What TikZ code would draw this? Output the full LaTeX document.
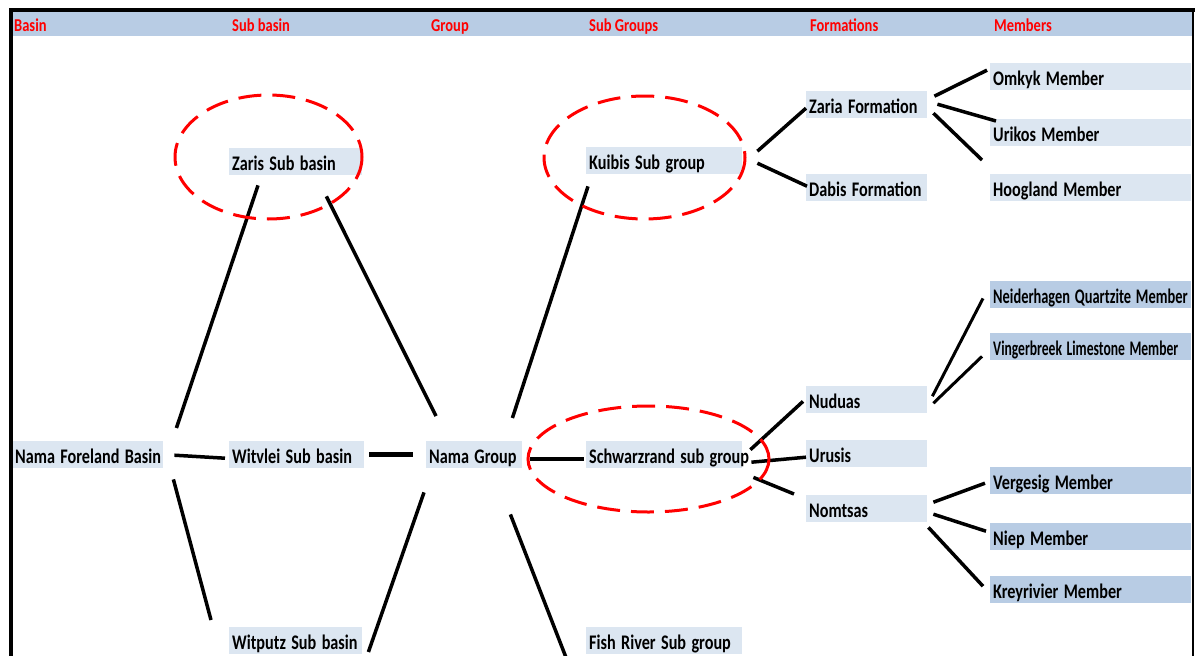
\documentclass[tikz,border=0pt]{standalone}
\usepackage{fontspec}
\setmainfont{Carlito}
\definecolor{hdr}{RGB}{184,204,228}
\definecolor{lbox}{RGB}{220,230,241}
\newcommand\vt[1]{\scalebox{1}[1.28]{#1}}
\newcommand\vtc[2]{\scalebox{#1}[1.28]{#2}}
\newcommand\vh[1]{\scalebox{1}[1.25]{#1}}
\tikzset{
  bx/.style={fill=lbox, anchor=north west, inner xsep=3pt, inner ysep=0pt,
    minimum height=27pt, text width=#1, align=left, text height=17pt, text depth=0pt,
    font=\fontsize{16.2}{18}\selectfont\bfseries},
  dk/.style={fill=hdr},
  hd/.style={anchor=west, inner sep=0pt, text=red, text height=11.4pt, text depth=0pt,
    font=\fontsize{14.5}{16}\selectfont\bfseries},
  cn/.style={line width=3.5pt},
  rell/.style={red, line width=3pt, dash pattern=on 23pt off 11pt},
  bord/.style={black, line width=4pt},
}
\begin{document}
\begin{tikzpicture}[x=1pt,y=-1pt]
\useasboundingbox (0,0) rectangle (1195,656);
% header bar
\fill[hdr] (12,12) rectangle (1192,36);
\node[hd] (h1) at (14,26.2) {\vh{Basin}};
\node[hd] (h2) at (232,26.2) {\vh{Sub basin}};
\node[hd] (h3) at (431,26.2) {\vh{Group}};
\node[hd] (h4) at (589,26.2) {\vh{Sub Groups}};
\node[hd] (h5) at (810,26.2) {\vh{Formations}};
\node[hd] (h6) at (994,26.2) {\vh{Members}};
% nodes
\node[bx=145] (nfb) at (12,441) {\vt{Nama Foreland Basin}};
\node[bx=129] (witvlei) at (229,441) {\vt{Witvlei Sub basin}};
\node[bx=90] (namag) at (426,441) {\vt{Nama Group}};
\node[bx=127] (zaris) at (229,148) {\vt{Zaris Sub basin}};
\node[bx=127] (witputz) at (229,627) {\vt{Witputz Sub basin}};
\node[bx=150] (kuibis) at (586,147) {\vt{Kuibis Sub group}};
\node[bx=150] (schwarz) at (586,441) {\vt{Schwarzrand sub group}};
\node[bx=150] (fish) at (586,627) {\vt{Fish River Sub group}};
\node[bx=115] (zaria) at (806,91) {\vt{Zaria Formation}};
\node[bx=115] (dabis) at (806,174) {\vt{Dabis Formation}};
\node[bx=195] (omkyk) at (990,63) {\vt{Omkyk Member}};
\node[bx=195] (urikos) at (990,119) {\vt{Urikos Member}};
\node[bx=195] (hoog) at (990,174) {\vt{Hoogland Member}};
\node[bx=195,dk] (neider) at (990,281) {\vtc{0.89}{Neiderhagen Quartzite Member}};
\node[bx=195,dk] (vinger) at (990,333) {\vtc{0.84}{Vingerbreek Limestone Member}};
\node[bx=115] (nuduas) at (806,386) {\vt{Nuduas}};
\node[bx=115] (urusis) at (806,440) {\vt{Urusis}};
\node[bx=115] (nomtsas) at (806,495) {\vt{Nomtsas}};
\node[bx=195,dk] (verg) at (990,467) {\vt{Vergesig Member}};
\node[bx=195,dk] (niep) at (990,523) {\vt{Niep Member}};
\node[bx=195,dk] (krey) at (990,576) {\vt{Kreyrivier Member}};
% connectors
\draw[cn] ([shift={(13,-13)}]nfb.north east) -- ([shift={(29,10)}]zaris.south west);
\draw[cn] ([shift={(11,0.5)}]nfb.east) -- ([shift={(-4,3.5)}]witvlei.west);
\draw[cn] ([shift={(10,11)}]nfb.south east) -- ([shift={(-18,-7)}]witputz.north west);
\draw[cn,line width=4.5pt] ([shift={(5,0)}]witvlei.east) -- ([shift={(-13,0)}]namag.west);
\draw[cn] ([shift={(-36,21)}]zaris.south east) -- ([shift={(10,-25)}]namag.north west);
\draw[cn] ([shift={(-2,24)}]namag.south west) -- ([shift={(6,25)}]witputz.north east);
\draw[cn] ([shift={(-10,-23)}]namag.north east) -- ([shift={(2,12)}]kuibis.south west);
\draw[cn] ([shift={(8,4.5)}]namag.east) -- ([shift={(-2,4.5)}]schwarz.west);
\draw[cn] ([shift={(-12,46)}]namag.south east) -- ([shift={(-19,33)}]fish.north west);
\draw[cn] ([shift={(15,-9.5)}]kuibis.east) -- ([shift={(0,3.5)}]zaria.west);
\draw[cn] ([shift={(15,2.5)}]kuibis.east) -- ([shift={(1,-1.5)}]dabis.west);
\draw[cn] ([shift={(7,-8.5)}]zaria.east) -- ([shift={(-3,-6.5)}]omkyk.west);
\draw[cn] ([shift={(10,-0.5)}]zaria.east) -- ([shift={(6,2)}]urikos.north west);
\draw[cn] ([shift={(6,8.5)}]zaria.east) -- ([shift={(-8,-14)}]hoog.north west);
\draw[cn] ([shift={(8,-5)}]schwarz.east) -- ([shift={(-3,-12)}]nuduas.south west);
\draw[cn] ([shift={(9,7.5)}]schwarz.east) -- ([shift={(0,3.5)}]urusis.west);
\draw[cn] ([shift={(11,9)}]schwarz.south east) -- ([shift={(-12,-1)}]nomtsas.north west);
\draw[cn,line width=3pt] ([shift={(5,-3.5)}]nuduas.east) -- ([shift={(-7,-10)}]neider.south west);
\draw[cn,line width=3pt] ([shift={(6,3.5)}]nuduas.east) -- ([shift={(-8,-4)}]vinger.south west);
\draw[cn] ([shift={(6,-6.5)}]nomtsas.east) -- ([shift={(-5,2.5)}]verg.west);
\draw[cn] ([shift={(6,5.5)}]nomtsas.east) -- ([shift={(-4,-5.5)}]niep.west);
\draw[cn] ([shift={(1,5)}]nomtsas.south east) -- ([shift={(-7,-3.5)}]krey.west);
% red dashed ellipses
\draw[rell] (268.5,157) ellipse [x radius=93.5, y radius=62];
\draw[rell] (644.5,157.5) ellipse [x radius=100.5, y radius=61.5];
\draw[rell] (648.5,459) ellipse [x radius=120.5, y radius=53];
% frame
\draw[bord] (9,10) -- (1195,10);
\draw[bord] (11,8) -- (11,656);
\draw[black,line width=2.5pt] (1193,10) -- (1193,656);
\end{tikzpicture}
\end{document}
